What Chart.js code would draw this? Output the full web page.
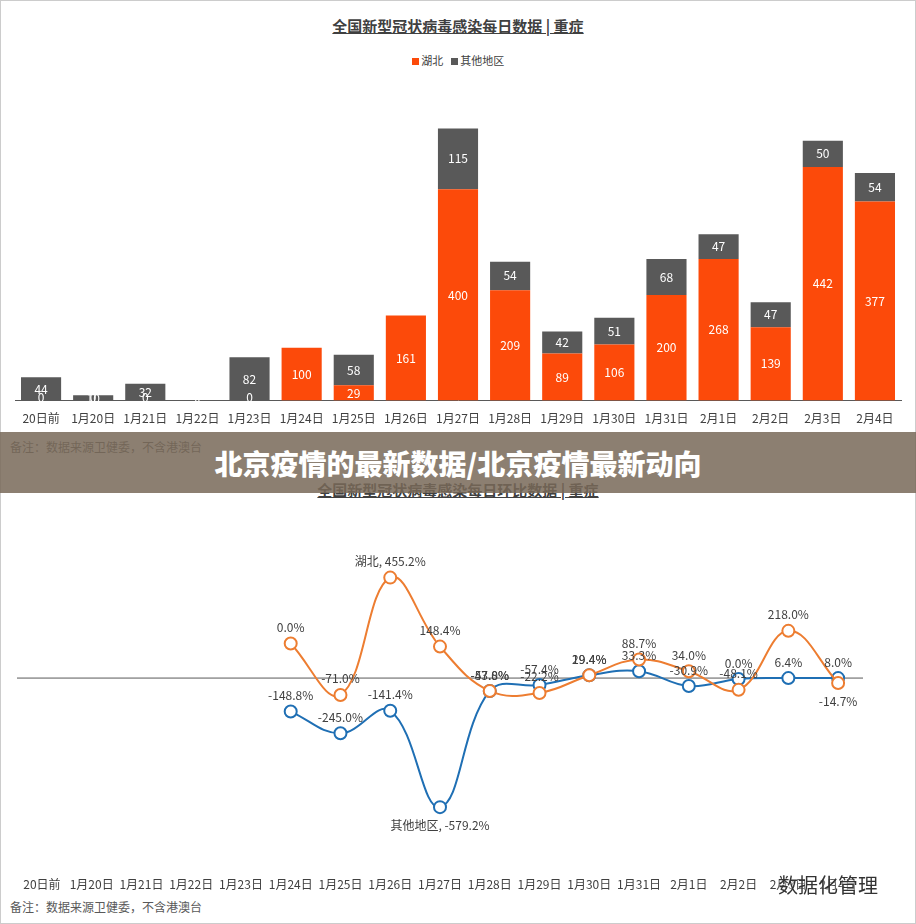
<!DOCTYPE html>
<html><head><meta charset="utf-8">
<script src="https://cdn.jsdelivr.net/npm/chart.js@4"></script>
<style>
body{margin:0;width:916px;height:924px;background:#fff;position:relative;overflow:hidden;font-family:"Noto Sans CJK SC",sans-serif;}
.abs{position:absolute;}
.title{width:916px;text-align:center;font-size:15px;font-weight:bold;color:#404040;text-decoration:underline;}
.note{left:10px;font-size:12px;color:#595959;}
#frame{left:0;top:0;width:914px;height:922px;border:1px solid #ccc;}
</style></head><body>
<div class="abs" id="frame"></div>
<div class="abs title" style="top:15px">全国新型冠状病毒感染每日数据 | 重症</div>
<div class="abs" style="top:52px;width:916px;text-align:center;font-size:11px;color:#404040">
<span style="display:inline-block;width:7px;height:7px;background:#FC4A0A"></span> 湖北 &nbsp;
<span style="display:inline-block;width:7px;height:7px;background:#595959"></span> 其他地区</div>
<div class="abs" style="left:0;top:100px;width:916px;height:329px"><canvas id="bar"></canvas></div>
<div class="abs note" style="top:438px">备注：数据来源卫健委，不含港澳台</div>
<div class="abs title" style="top:479px">全国新型冠状病毒感染每日环比数据 | 重症</div>
<div class="abs" style="left:0;top:520px;width:916px;height:375px"><canvas id="line"></canvas></div>
<div class="abs note" style="top:898px">备注：数据来源卫健委，不含港澳台</div>
<div class="abs" style="left:0;top:432px;width:916px;height:61px;background:rgba(120,105,88,0.85)"></div>
<div class="abs" style="left:0;top:443px;width:916px;text-align:center;font-size:28px;font-weight:900;color:#fff">北京疫情的最新数据/北京疫情最新动向</div>
<div class="abs" style="left:778px;top:870px;font-size:20px;color:#333;text-shadow:0 0 3px #fff">数据化管理</div>
<script>
const categories=["20日前","1月20日","1月21日","1月22日","1月23日","1月24日","1月25日","1月26日","1月27日","1月28日","1月29日","1月30日","1月31日","2月1日","2月2日","2月3日","2月4日"];
const hubei=[0,0,0,0,0,100,29,161,400,209,89,106,200,268,139,442,377];
const others=[44,10,32,0,82,0,58,0,115,54,42,51,68,47,47,50,54];
const hubeiRate=[null,null,null,null,null,156,-76,453,142,-58,-67,13,84,31,-53,213,-22];
const othersRate=[null,null,null,null,null,-151,-249,-147,-582,-58,-31,13,31,-36,-4,0,0];
const hubeiRateText=["","","","","","0.0%","-71.0%","湖北, 455.2%","148.4%","-53.0%","-22.2%","29.4%","88.7%","34.0%","-48.1%","218.0%","-14.7%"];
const othersRateText=["","","","","","-148.8%","-245.0%","-141.4%","其他地区, -579.2%","-47.8%","-57.4%","19.4%","33.3%","-30.9%","0.0%","6.4%","8.0%"];
const F='"Noto Sans CJK SC",sans-serif';
Chart.defaults.font.family=F;
const barLabels={id:'bl',afterDatasetsDraw(c){const x=c.ctx;x.save();x.font='12px '+F;x.fillStyle='#fff';x.textAlign='center';x.textBaseline='middle';
c.data.datasets.forEach((d,i)=>{c.getDatasetMeta(i).data.forEach((b,j)=>{const v=d.data[j];if(v===0&&i===1)return;const y=v===0?b.y-3:(b.y+b.base)/2;x.fillText(v,b.x,y);});});x.restore();}};
new Chart(document.getElementById('bar'),{type:'bar',data:{labels:categories,datasets:[
{label:'湖北',data:hubei,backgroundColor:'#FC4A0A',categoryPercentage:0.77,barPercentage:1},
{label:'其他地区',data:others,backgroundColor:'#595959',categoryPercentage:0.77,barPercentage:1}]},
options:{responsive:true,maintainAspectRatio:false,animation:false,layout:{padding:{left:15,right:15,top:0}},plugins:{legend:{display:false},tooltip:{enabled:false}},
scales:{x:{stacked:true,grid:{display:false},border:{color:'#595959'},ticks:{color:'#404040',font:{size:12},maxRotation:0,autoSkip:false}},
y:{stacked:true,display:false,min:0,max:569}}},plugins:[barLabels]});
const lineLabels={id:'ll',afterDatasetsDraw(c){const x=c.ctx;x.save();x.font='12px '+F;x.fillStyle='#404040';x.textAlign='center';
const texts=[hubeiRateText,othersRateText];
c.data.datasets.forEach((d,i)=>{c.getDatasetMeta(i).data.forEach((p,j)=>{const t=texts[i][j];if(!t)return;
const below=(i===1&&j===8)||(i===0&&j===16);x.textBaseline=below?'top':'bottom';x.fillText(t,p.x,below?p.y+12:p.y-10);});});x.restore();}};
const zero={id:'z',beforeDatasetsDraw(c){const x=c.ctx,y=c.scales.y.getPixelForValue(0);x.save();x.strokeStyle='#595959';x.lineWidth=1;x.beginPath();x.moveTo(c.chartArea.left,y);x.lineTo(c.chartArea.right,y);x.stroke();x.restore();}};
new Chart(document.getElementById('line'),{type:'line',data:{labels:categories,datasets:[
{label:'湖北',data:hubeiRate,borderColor:'#ED7D31',pointBackgroundColor:'#fff',pointBorderColor:'#ED7D31',pointRadius:6,pointBorderWidth:2,borderWidth:2,tension:0.4},
{label:'其他地区',data:othersRate,borderColor:'#1F6FB4',pointBackgroundColor:'#fff',pointBorderColor:'#1F6FB4',pointRadius:6,pointBorderWidth:2,borderWidth:2,tension:0.4}]},
options:{responsive:true,maintainAspectRatio:false,animation:false,layout:{padding:{left:17,right:53,top:25}},plugins:{legend:{display:false},tooltip:{enabled:false}},
scales:{x:{offset:true,grid:{display:false},border:{display:false},ticks:{color:'#404040',font:{size:12},maxRotation:0,autoSkip:false}},
y:{display:false,min:-850,max:600}}},plugins:[zero,lineLabels]});
</script></body></html>
